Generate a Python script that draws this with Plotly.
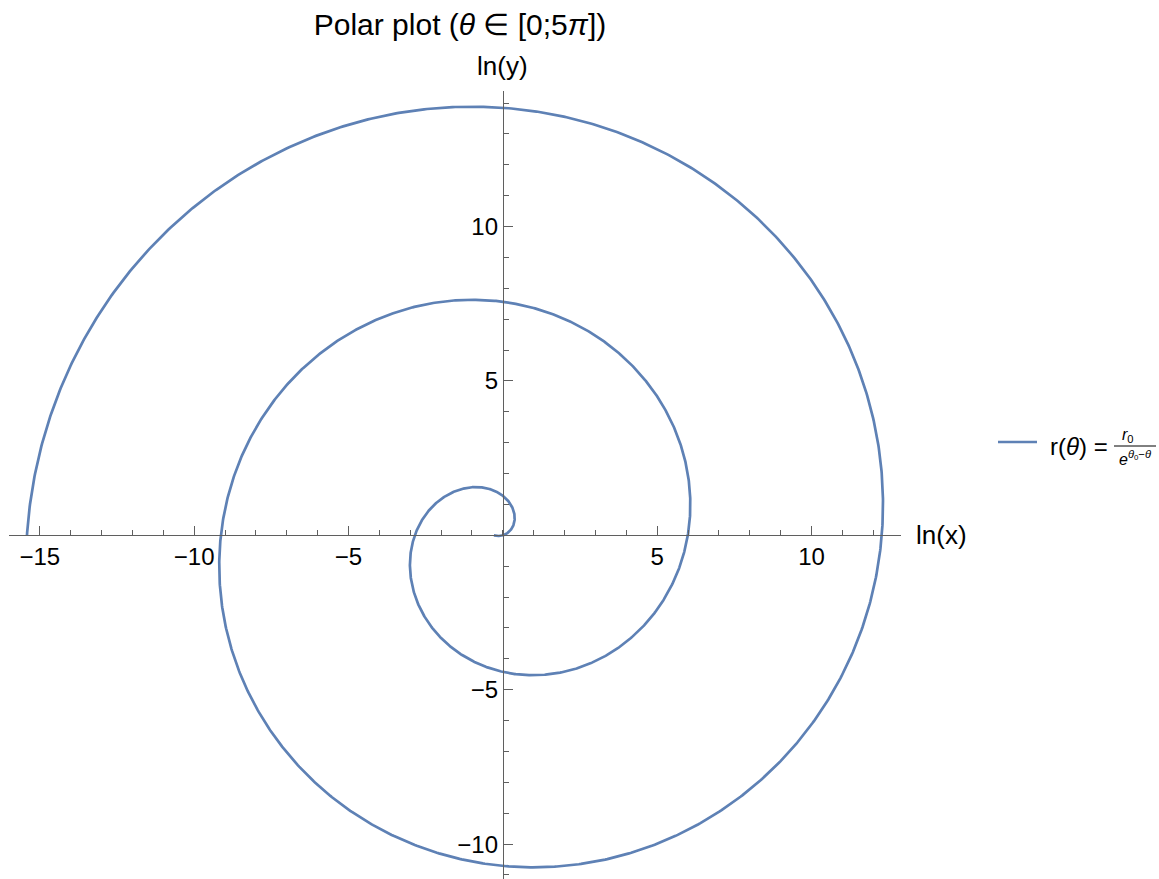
import numpy as np
import plotly.graph_objects as go

# Spiral r(θ) = r0 / e^(θ0 − θ), drawn as ln r in the plane
R0 = 1.0
THETA0 = 0.29
THETA_START = 0.0
THETA_END = 5 * np.pi

# Axis setup
X_RANGE = [-16.0, 12.9]
Y_RANGE = [-11.13, 14.39]
X_MAJOR = [-15, -10, -5, 5, 10]
Y_MAJOR = [-10, -5, 5, 10]

W, H = 1159, 879
M_L, M_R, M_T, M_B = 9, 258, 91, 0
PLOT_W = W - M_L - M_R
PLOT_H = H - M_T - M_B

CURVE_COLOR = "#5E81B5"
AXIS_COLOR = "rgb(95,95,95)"
FONT = "Liberation Sans, Arial, sans-serif"

theta = np.linspace(THETA_START, THETA_END, 2400)
log_r = np.log(R0 / np.exp(THETA0 - theta))
x = log_r * np.cos(theta)
y = log_r * np.sin(theta)


def px_to_paper_x(px):
    return (px - M_L) / PLOT_W


def px_to_paper_y(py):
    return (H - M_B - py) / PLOT_H


fig = go.Figure()
fig.add_trace(go.Scatter(
    x=x, y=y, mode="lines",
    line=dict(color=CURVE_COLOR, width=2.7),
    name="r(θ)",
    showlegend=False,
    hoverinfo="skip",
))

axis_common = dict(
    showgrid=False, zeroline=False, showline=True,
    linecolor=AXIS_COLOR, linewidth=1,
    ticks="inside", ticklen=9, tickwidth=1, tickcolor=AXIS_COLOR,
    tickfont=dict(family=FONT, size=24, color="black"),
    anchor="free", fixedrange=True,
)

fig.update_layout(
    width=W, height=H,
    margin=dict(l=M_L, r=M_R, t=M_T, b=M_B),
    paper_bgcolor="white", plot_bgcolor="white",
    font=dict(family=FONT, color="black"),
    title=dict(
        text="Polar plot (<i>θ</i> ∈ [0;5<i>π</i>])",
        font=dict(family=FONT, size=30, color="black"),
        x=460 / W, xanchor="center", xref="container",
        y=1 - 24 / H, yanchor="middle", yref="container",
    ),
    xaxis=dict(
        axis_common,
        range=X_RANGE,
        position=(0 - Y_RANGE[0]) / (Y_RANGE[1] - Y_RANGE[0]),
        tickvals=X_MAJOR,
        minor=dict(dtick=1, tick0=0, ticks="inside", ticklen=5,
                   tickwidth=1, tickcolor=AXIS_COLOR),
    ),
    yaxis=dict(
        axis_common,
        range=Y_RANGE,
        position=(0 - X_RANGE[0]) / (X_RANGE[1] - X_RANGE[0]),
        tickvals=Y_MAJOR,
        minor=dict(dtick=1, tick0=0, ticks="inside", ticklen=5,
                   tickwidth=1, tickcolor=AXIS_COLOR),
    ),
    showlegend=False,
)

# Axis labels
fig.add_annotation(
    text="ln(x)", xref="paper", yref="y",
    x=px_to_paper_x(914), y=0, xanchor="left", yanchor="middle",
    showarrow=False, font=dict(family=FONT, size=26, color="black"),
)
fig.add_annotation(
    text="ln(y)", xref="x", yref="paper",
    x=0, y=px_to_paper_y(66), xanchor="center", yanchor="middle",
    showarrow=False, font=dict(family=FONT, size=26, color="black"),
)

# Legend: line sample, label and the fraction r0 / e^(θ0−θ)
fig.add_shape(
    type="line", xref="paper", yref="paper",
    x0=px_to_paper_x(998), x1=px_to_paper_x(1037),
    y0=px_to_paper_y(442), y1=px_to_paper_y(442),
    line=dict(color=CURVE_COLOR, width=2.7),
)
fig.add_annotation(
    text="r(<i>θ</i>) =", xref="paper", yref="paper",
    x=px_to_paper_x(1048), y=px_to_paper_y(446),
    xanchor="left", yanchor="middle", showarrow=False,
    font=dict(family=FONT, size=24, color="black"),
)
fig.add_annotation(
    text="<i>r</i><sub>0</sub>", xref="paper", yref="paper",
    x=px_to_paper_x(1128), y=px_to_paper_y(446),
    xanchor="center", yanchor="bottom", showarrow=False,
    borderpad=0, font=dict(family=FONT, size=16, color="black"),
)
fig.add_annotation(
    text="<i>e</i><sup><i>θ</i><sub>0</sub>−<i>θ</i></sup>", xref="paper", yref="paper",
    x=px_to_paper_x(1135), y=px_to_paper_y(447),
    xanchor="center", yanchor="top", showarrow=False,
    borderpad=0, font=dict(family=FONT, size=16, color="black"),
)
fig.add_shape(
    type="line", xref="paper", yref="paper",
    x0=px_to_paper_x(1114), x1=px_to_paper_x(1156),
    y0=px_to_paper_y(446), y1=px_to_paper_y(446),
    line=dict(color="black", width=1),
)

fig.write_html("out.html")
